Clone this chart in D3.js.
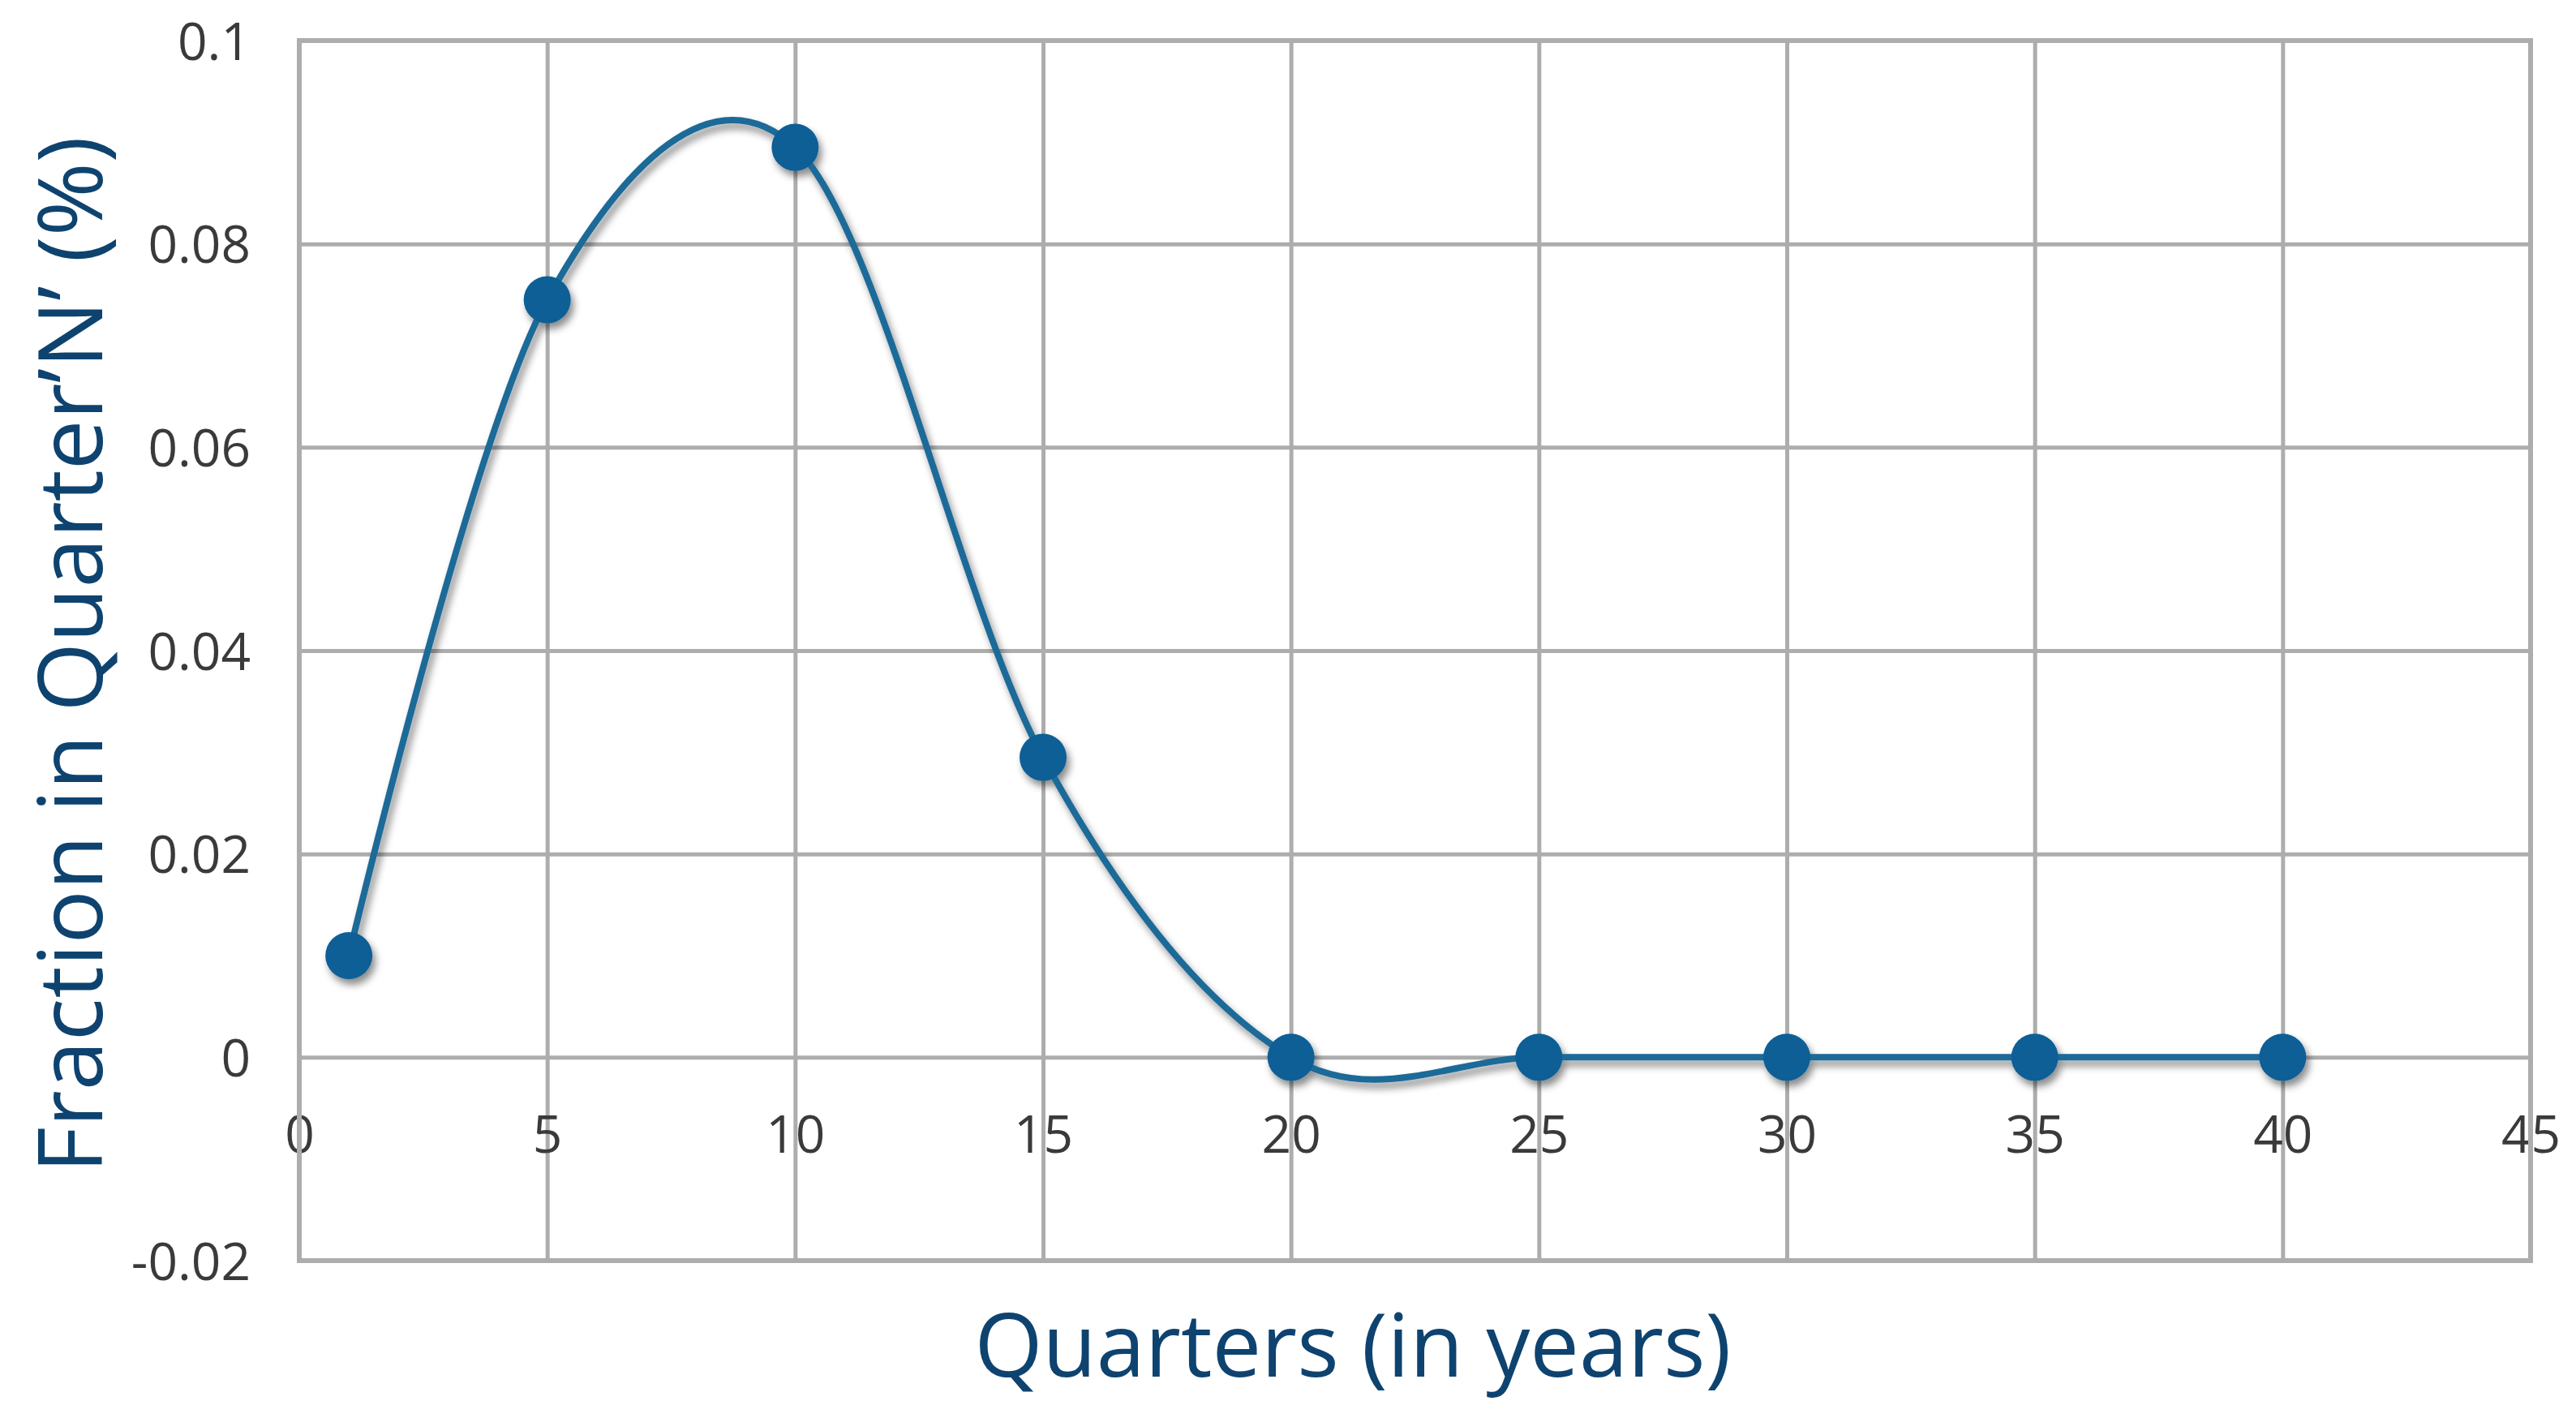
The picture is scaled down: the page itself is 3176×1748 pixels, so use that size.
<!DOCTYPE html>
<html>
<head>
<meta charset="utf-8">
<script src="https://cdn.jsdelivr.net/npm/d3@7"></script>
<style>
  body { margin: 0; background: #ffffff; }
  .tick text { font-family: "Open Sans", sans-serif; fill: #3a3a3a; }
  .axisText { font-family: "Open Sans", sans-serif; fill: #0e4370; }
</style>
</head>
<body>
<div id="chart"></div>
<script>
// Data
var quarters = [1, 5, 10, 15, 20, 25, 30, 35, 40];
var fractions = [0.01, 0.0745, 0.0895, 0.0295, 0, 0, 0, 0, 0];

var xTicks = [0, 5, 10, 15, 20, 25, 30, 35, 40, 45];
var xLabels = ["0", "5", "10", "15", "20", "25", "30", "35", "40", "45"];
var yTicks = [-0.02, 0, 0.02, 0.04, 0.06, 0.08, 0.1];
var yLabels = ["-0.02", "0", "0.02", "0.04", "0.06", "0.08", "0.1"];

var data = quarters.map((q, i) => ({ q: q, v: fractions[i] }));

// SVG area dimensions
var svgWidth = 3176;
var svgHeight = 1748;

var chartMargin = { top: 50, right: 56, bottom: 194, left: 369 };
var chartWidth = svgWidth - chartMargin.left - chartMargin.right;
var chartHeight = svgHeight - chartMargin.top - chartMargin.bottom;

var svg = d3.select("#chart")
  .append("svg")
  .attr("width", svgWidth)
  .attr("height", svgHeight);

// drop shadow for line and markers
var defs = svg.append("defs");
var shadow = defs.append("filter")
  .attr("id", "shadow")
  .attr("x", "-20%").attr("y", "-20%")
  .attr("width", "140%").attr("height", "140%");
shadow.append("feDropShadow")
  .attr("dx", 4).attr("dy", 7)
  .attr("stdDeviation", 5)
  .attr("flood-color", "#000")
  .attr("flood-opacity", 0.45);

var chartGroup = svg.append("g")
  .attr("transform", `translate(${chartMargin.left}, ${chartMargin.top})`);

var xScale = d3.scaleLinear().domain([0, 45]).range([0, chartWidth]);
var yScale = d3.scaleLinear().domain([-0.02, 0.1]).range([chartHeight, 0]);

// left axis with horizontal gridlines
var leftAxis = d3.axisLeft(yScale)
  .tickValues(yTicks)
  .tickSize(-chartWidth)
  .tickPadding(60)
  .tickFormat((d, i) => yLabels[i]);

var yAxisG = chartGroup.append("g").call(leftAxis);
yAxisG.select(".domain").remove();
yAxisG.selectAll("line").attr("stroke", "#adadad").attr("stroke-width", 5);
yAxisG.selectAll("text")
  .attr("dy", "0.36em")
  .style("font-size", "64px");

// bottom axis with vertical gridlines, labels sit under the zero line
var bottomAxis = d3.axisBottom(xScale)
  .tickValues(xTicks)
  .tickSize(-chartHeight)
  .tickFormat((d, i) => xLabels[i]);

var xAxisG = chartGroup.append("g")
  .attr("transform", `translate(0, ${chartHeight})`)
  .call(bottomAxis);
xAxisG.select(".domain").remove();
xAxisG.selectAll("line").attr("stroke", "#adadad").attr("stroke-width", 5);
xAxisG.selectAll("text")
  .attr("y", yScale(0) - chartHeight + 95)
  .attr("dy", "0.36em")
  .style("font-size", "64px");

// outer frame
chartGroup.append("rect")
  .attr("x", 0).attr("y", 0)
  .attr("width", chartWidth).attr("height", chartHeight)
  .attr("fill", "none")
  .attr("stroke", "#adadad")
  .attr("stroke-width", 6);

// smoothed line
var line = d3.line()
  .x(d => xScale(d.q))
  .y(d => yScale(d.v))
  .curve(d3.curveCardinal.tension(0));

var seriesG = chartGroup.append("g").attr("filter", "url(#shadow)");

seriesG.append("path")
  .datum(data)
  .attr("d", line)
  .attr("fill", "none")
  .attr("stroke", "#1d6a98")
  .attr("stroke-width", 8);

seriesG.selectAll(".dot")
  .data(data)
  .enter()
  .append("circle")
  .attr("class", "dot")
  .attr("cx", d => xScale(d.q))
  .attr("cy", d => yScale(d.v))
  .attr("r", 29)
  .attr("fill", "#0b5f96");

// axis titles
chartGroup.append("text")
  .attr("class", "axisText")
  .attr("transform", "rotate(-90)")
  .attr("x", -(807 - chartMargin.top))
  .attr("y", 126 - chartMargin.left)
  .attr("text-anchor", "middle")
  .style("font-size", "110px")
  .text("Fraction in Quarter’N’ (%)");

chartGroup.append("text")
  .attr("class", "axisText")
  .attr("x", 1668 - chartMargin.left)
  .attr("y", 1697 - chartMargin.top)
  .attr("text-anchor", "middle")
  .style("font-size", "108px")
  .text("Quarters (in years)");
</script>
</body>
</html>
